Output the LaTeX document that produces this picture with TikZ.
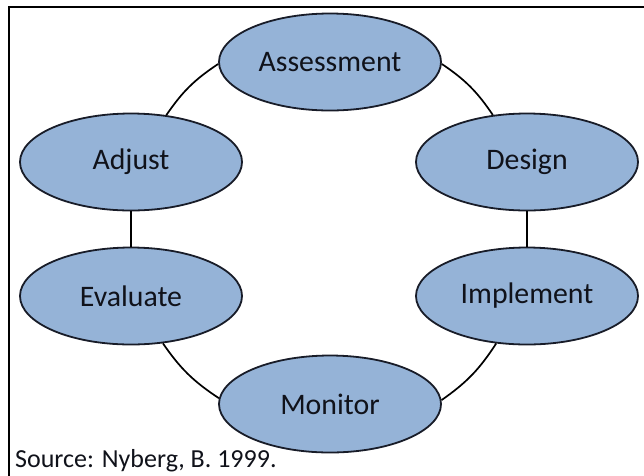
\documentclass[tikz,border=0pt]{standalone}
\usepackage{fontspec}
\setmainfont{Carlito}
\usetikzlibrary{shapes.geometric}
\definecolor{ellfill}{RGB}{149,179,215}
\definecolor{elldraw}{RGB}{24,28,40}
\definecolor{txt}{RGB}{16,18,26}
\tikzset{
  phase/.style={ellipse, draw=elldraw, fill=ellfill, line width=1.8pt,
    minimum width=222pt, minimum height=97pt, inner sep=0pt,
    text=txt, font=\fontsize{29.8}{34}\selectfont},
  link/.style={draw=black, line width=1.7pt},
  frameline/.style={draw=black, line width=2.4pt}
}
\begin{document}
\begin{tikzpicture}[x=1pt,y=-1pt]
\useasboundingbox[fill=white] (0,0) rectangle (644,475);
\draw[frameline] (9,478) -- (9,7) -- (647,7);
% nodes
\node[phase] (A) at (330,62) {Assessment};
\node[phase] (D) at (527,162) {Design};
\node[phase] (I) at (527,296) {Implement};
\node[phase] (M) at (330,404) {Monitor};
\node[phase] (E) at (131,296) {Evaluate};
\node[phase] (J) at (131,162) {Adjust};
% connectors
\draw[link] (A.-1.8) to[bend left=11] (D.126.6);
\draw[link] (D.south) -- (I.north);
\draw[link] (I.-123.3) to[bend left=11] (M.2.7);
\draw[link] (M.177.3) to[bend left=11] (E.-56.7);
\draw[link] (E.north) -- (J.south);
\draw[link] (J.53.4) to[bend left=11] (A.181.8);
% source
\node[anchor=base west, inner sep=0pt, text=txt, font=\fontsize{26}{30}\selectfont] (src) at (15,467) {Source: Nyberg, B. 1999.};
\end{tikzpicture}
\end{document}
